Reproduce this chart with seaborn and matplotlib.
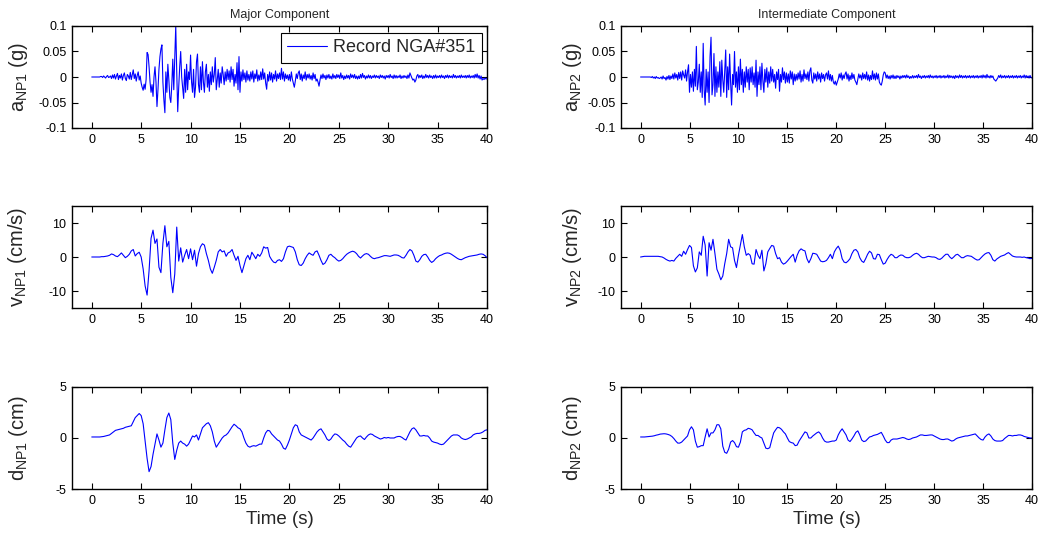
import numpy as np
import matplotlib
matplotlib.use("Agg")
import matplotlib.pyplot as plt
import seaborn as sns

# Registro NGA#351, componentes principais
# aceleração em mili-g, amostrada a cada 0.1 s (0 a 40 s)
acc_np1_mg = [
    0, 0, 0, 0, 0, 0, 0, 0, 0, 1,
    1, -1, 2, 0, -2, 1, 3, -1, 0, 2,
    -3, 4, -2, 5, -4, 2, 7, -5, 3, -2,
    6, -6, 3, 8, -3, -7, 5, 2, -4, 9,
    -5, 4, 14, -3, 6, -8, 3, 10, -6, 2,
    -12, -20, -26, -14, -24, -5, 48, 44, 20, -10,
    -30, -15, -38, 0, 20, -10, -58, -25, 15, 40,
    55, 63, -10, -45, -70, 10, -30, 25, -5, -40,
    -50, -15, 35, -25, 40, 100, 10, -68, -20, 20,
    50, 0, -20, -42, 15, -30, 25, -25, 10, -5,
    43, -10, -30, 15, -40, -20, 30, 45, -15, -30,
    20, -25, 30, -10, -30, 10, 25, -20, 5, -28,
    10, -15, 20, -10, 5, 38, -25, -5, 15, -20,
    8, -12, 20, 5, -15, 10, -8, 15, -5, 12,
    -10, 20, -5, 15, -18, 5, -12, 28, -25, 40,
    -30, 10, -8, 14, -5, 8, -10, 12, -6, 5,
    -8, 10, -4, 12, -10, 6, -3, 14, -8, 4,
    -6, 10, -5, 16, -4, 8, -12, -24, 5, -8,
    10, -6, 8, -10, 5, -4, 12, -8, 6, -3,
    8, -5, 17, -4, 10, -8, 6, -3, 4, -6,
    5, -8, 10, -4, -12, -20, -8, 6, -3, 8,
    12, -5, 6, -8, 4, -3, 10, -6, 5, -2,
    6, -4, 3, -6, 8, -3, 5, -8, -4, -10,
    -18, -6, 4, -3, 6, -2, 3, -5, 4, -2,
    5, -3, 2, -4, 6, -2, 3, -3, 5, -1,
    4, -3, 8, -2, 3, -5, 2, -3, 4, -2,
    3, -4, 6, -1, 4, -2, 5, -3, 2, -4,
    2, -3, 5, -2, 7, -1, 3, -4, 2, -2,
    4, -2, 3, -3, 2, -1, 4, -2, 3, -1,
    2, -3, 4, -1, 3, -2, 2, -4, 3, -1,
    3, -2, 5, -1, 2, -3, 4, -2, 3, -2,
    2, -1, 4, -3, 2, -2, 3, -1, 2, -3,
    4, -2, 8, 3, -2, -6, -4, -10, -6, 2,
    5, -2, 3, -1, 4, -3, 2, -2, 5, -1,
    3, -2, 4, -1, 2, -3, 3, -2, 4, -2,
    2, -1, 3, -2, 4, -1, 2, -3, 3, -1,
    4, -2, 3, -1, 2, -2, 5, -1, 3, -2,
    2, -1, 3, -2, 4, -1, 2, -1, 3, -2,
    3, -1, 4, -2, 2, -1, 3, -2, 5, -1,
    6, -2, 3, -4, 2, -6, -3, -5, -2, -4,
    -3,
]

acc_np2_mg = [
    0, 0, 0, 0, 0, 0, 0, 0, 0, 0,
    0, -1, 1, -2, 0, -3, 1, -2, -1, -3,
    -2, 0, -4, 2, -3, -1, -6, 1, -4, 3,
    -5, 2, -3, 6, -4, 8, -2, 5, -6, 9,
    -3, 10, -6, 12, 4, -2, 14, -8, 10, 24,
    -30, 5, -20, 10, -28, 15, -18, 60, -25, -10,
    25, -30, 10, -40, 66, -25, -55, 15, -30, 10,
    -50, 40, 78, -35, -15, 46, -38, 20, -30, 10,
    -20, 30, -38, 33, -5, -30, 10, 53, -40, 20,
    -25, 45, -10, -55, 5, -15, 50, -20, 10, -30,
    20, -25, 35, -15, 15, -30, 10, -20, 20, -10,
    15, -25, 18, -10, 20, -15, 8, -20, 33, -38,
    10, -15, 20, -25, 27, -8, -30, 15, -10, 18,
    -20, 10, -12, 20, -8, 15, -10, 5, -22, 10,
    -5, 15, -28, 5, -10, 18, -5, 10, -12, 8,
    -10, 6, -12, 12, -4, 10, -15, 6, -8, 5,
    -6, 8, -4, 12, -10, 5, -8, 14, -3, 6,
    -5, 10, -8, 12, 18, -6, -12, 8, -4, 6,
    -8, 10, -4, 6, -10, 8, -3, 5, -8, 4,
    8, -4, 12, -6, 5, -8, 3, -10, -14, -8,
    -16, -10, -4, 6, -2, 8, -6, 4, -3, 6,
    10, -4, 6, -8, 3, -5, 8, -3, 5, -6,
    -10, -15, -5, 6, -2, 4, -6, 8, -3, 5,
    -4, 10, -6, 4, -8, 3, -5, 12, -4, 6,
    -6, 8, -4, 6, -10, -14, -16, -8, 4, 10,
    8, -2, 4, -3, 2, -4, 3, -2, 4, -3,
    2, -3, 3, -1, 2, -4, 2, -2, 3, -1,
    3, -2, 4, -1, 2, -3, 1, -2, 3, -2,
    2, -1, 3, -2, 5, -1, 2, -3, 2, -1,
    3, -2, 2, -1, 3, -2, 4, -1, 2, -2,
    2, -1, 3, -2, 2, -1, 3, -2, 2, -1,
    3, -2, 2, -1, 4, -2, 3, -1, 2, -2,
    2, -3, 3, -1, 2, -2, 4, -1, 3, -2,
    2, -1, 3, -2, 2, -1, 3, -2, 2, -1,
    3, -2, 2, -1, 3, -2, 2, -1, 3, -2,
    4, -1, 3, -2, 5, -1, 2, -2, 3, -1,
    2, -4, -6, -8, -5, -2, 3, -1, 4, -2,
    2, -1, 3, -2, 2, -1, 3, -2, 2, -1,
    3, -2, 2, -1, 3, -2, 2, -1, 3, -2,
    2, -1, 4, -2, 3, -1, 2, -2, 3, -1,
    -2,
]

# velocidade (cm/s) e deslocamento (cm), amostrados a cada 0.2 s
vel_np1 = [
    0, 0, 0, 0, 0, 0.1, 0.1, 0.2, 0.3, 0.5,
    0.9, 0.7, 0.3, 0.1, 0.6, 1.2, 0.5, -0.2, 0.2, 0.8,
    1.8, 2.2, 0.3, 1.0, 1.4, 0.0, -3.5, -8.5, -11.2, -4.0,
    5.5, 7.9, 4.0, 5.3, -3.0, -4.6, 4.0, 9.2, 3.0, 4.6,
    -6.0, -10.5, -5.0, 8.8, -1.2, 2.7, -1.5, 0.5, 2.2, -0.5,
    2.4, -0.8, 2.0, -2.7, 1.0, 3.0, 3.9, 3.5, 1.0, -1.0,
    -3.5, -4.8, -3.0, -1.0, 1.5, 2.2, 1.5, 1.8, 0.2, 1.2,
    1.5, 2.2, 0.5, -1.0, 0.2, -2.5, -4.6, -2.5, -0.5, 0.5,
    -0.8, 1.4, 0.5, -0.5, 0.8, 0.2, 1.2, 3.0, 2.6, 2.8,
    0.2, -0.8, -1.5, -1.7, -1.0, -0.8, -1.3, -0.5, 1.5, 3.0,
    3.2, 3.0, 2.8, 1.5, -0.8, -2.3, -2.5, -1.8, -0.5, 0.5,
    1.2, 0.8, 0.5, 1.5, 1.8, 0.5, -1.0, -2.2, -1.8, -0.8,
    0.5, 0.8, 0.2, -0.2, -0.8, -1.2, -1.0, -0.5, 0.2, 0.8,
    1.2, 1.5, 1.7, 1.5, 1.0, 0.2, -0.3, 0.3, 0.8, 1.0,
    0.8, 0.2, -0.3, -0.5, -0.3, -0.2, 0.0, 0.2, 0.4, 0.4,
    0.3, 0.2, 0.4, 0.6, 0.6, 0.5, 0.2, -0.2, -0.3, 0.5,
    1.5, 2.2, 1.8, 0.5, -1.2, -1.5, -0.8, 0.2, 0.7, 0.8,
    0.0, -1.0, -1.6, -1.2, -0.5, 0.0, 0.4, 0.6, 0.9, 1.1,
    1.2, 1.1, 0.8, 0.4, 0.0, -0.4, -0.7, -0.8, -0.5, -0.2,
    0.0, 0.2, 0.3, 0.4, 0.5, 0.6, 0.8, 0.9, 0.8, 0.4,
    -0.2,
]

vel_np2 = [
    0, 0.1, 0.2, 0.2, 0.2, 0.2, 0.2, 0.2, 0.2, 0.2,
    0.1, 0.0, -0.3, -0.7, -1.0, -1.2, -1.0, -1.2, -0.4, 0.2,
    0.8, 0.2, 1.7, 0.8, 2.2, 3.4, 2.8, -2.6, -4.4, -3.2,
    1.5, 0.5, 6.1, 3.5, -5.6, 4.2, 2.0, 5.2, 1.0, -3.6,
    -5.0, -6.7, -5.6, -2.0, 1.0, 5.2, 3.0, 2.7, -1.0, -3.1,
    0.5, 3.5, 6.6, 3.0, 0.5, 1.0, 0.5, -2.0, -2.1, 2.2,
    0.5, -0.5, 2.0, -4.1, -2.0, 1.5, 2.5, 3.4, 3.2, 1.0,
    -0.5, -0.2, -1.5, -2.1, -1.8, -1.2, -0.5, 0.2, 0.8, -1.5,
    0.5, 1.8, 2.4, 2.0, 1.8, -0.5, -1.7, -0.5, 1.1, 1.0,
    0.8, -0.2, -1.2, -1.4, -1.3, -1.0, -0.2, 0.8, -0.5, 1.5,
    2.5, 3.2, 2.0, -0.5, -1.5, -1.7, -1.2, -0.5, 1.0, 2.0,
    2.2, 1.5, -0.2, -1.2, -1.6, -0.5, 0.8, 1.7, 1.2, -0.5,
    -0.6, 0.8, 0.7, -0.8, -2.1, -1.8, -0.7, 0.2, 0.8, 0.5,
    -0.2, -0.2, 0.3, 0.6, 0.5, 0.0, -0.2, -0.2, 0.0, 0.5,
    0.9, 1.1, 0.8, 0.2, -0.2, -0.2, 0.0, 0.2, 0.1, 0.0,
    0.0, -0.2, -0.6, -0.7, -0.3, 0.3, 0.8, 0.8, 0.0, -0.5,
    0.0, 0.6, 0.8, 0.3, -0.2, -0.2, 0.2, 0.4, 0.3, 0.2,
    -0.2, -0.6, -0.9, -0.8, -0.2, 0.4, 0.9, 1.2, 1.3, 0.5,
    -0.8, -1.2, -0.6, -0.2, 0.2, 0.4, 0.6, 1.0, 1.3, 0.8,
    0.3, 0.1, 0.0, 0.0, 0.0, -0.1, 0.0, -0.2, -0.3, -0.5,
    -0.4,
]

disp_np1 = [
    0.1, 0.1, 0.1, 0.1, 0.1, 0.12, 0.15, 0.2, 0.25, 0.3,
    0.45, 0.6, 0.75, 0.8, 0.85, 0.9, 0.95, 1.05, 1.1, 1.15,
    1.2, 1.6, 2.0, 2.2, 2.4, 2.2, 1.4, -0.3, -2.0, -3.3,
    -2.8, -1.6, -0.6, 0.4, -0.2, -0.9, -0.5, 0.8, 2.0, 2.45,
    1.8, -0.5, -2.1, -1.2, -0.5, -0.3, -0.5, -0.6, -0.8, -0.6,
    -0.2, 0.2, 0.1, 0.3, -0.2, 0.4, 1.0, 1.2, 1.4, 1.5,
    1.2, 0.6, -0.3, -0.9, -0.6, -0.3, 0.0, 0.2, 0.3, 0.5,
    0.8, 1.1, 1.35, 1.2, 1.0, 0.9, 0.6, 0.0, -0.5, -0.8,
    -0.9, -0.8, -0.75, -0.8, -0.7, -0.6, -0.6, 0.0, 0.5, 0.75,
    0.7, 0.4, 0.2, 0.0, -0.2, -0.3, -0.6, -1.0, -1.1, -0.7,
    -0.2, 0.4, 1.0, 1.3, 1.2, 0.6, 0.3, 0.2, 0.1, 0.0,
    -0.1, -0.2, 0.0, 0.3, 0.6, 0.8, 0.9, 0.6, 0.3, -0.1,
    -0.25, -0.1, 0.2, 0.4, 0.35, 0.2, 0.0, -0.2, -0.35, -0.6,
    -0.8, -0.9, -0.6, -0.3, 0.0, 0.15, 0.2, 0.0, -0.15, 0.1,
    0.3, 0.4, 0.35, 0.2, 0.1, 0.0, -0.1, -0.05, 0.05, 0.0,
    0.05, 0.0, 0.0, 0.0, 0.1, 0.15, 0.15, 0.05, -0.1, -0.2,
    0.2, 0.6, 0.9, 1.0, 0.8, 0.5, 0.2, 0.2, 0.25, 0.2,
    0.2, 0.0, -0.3, -0.4, -0.45, -0.5, -0.6, -0.65, -0.6, -0.4,
    -0.2, 0.0, 0.2, 0.3, 0.3, 0.3, 0.2, 0.0, -0.1, -0.15,
    -0.1, 0.0, 0.1, 0.3, 0.4, 0.45, 0.45, 0.5, 0.6, 0.75,
    0.8,
]

disp_np2 = [
    0.1, 0.1, 0.1, 0.12, 0.15, 0.15, 0.18, 0.22, 0.28, 0.32,
    0.38, 0.4, 0.42, 0.4, 0.35, 0.28, 0.15, -0.05, -0.3, -0.5,
    -0.5, -0.4, -0.2, 0.0, 0.2, 0.8, 1.1, 0.8, -0.3, -0.9,
    -0.85, -0.75, -0.75, 0.1, 0.9, 0.1, 0.5, 0.5, 0.8, 1.3,
    1.3, 0.9, -0.8, -1.4, -1.5, -1.1, -0.4, -0.25, -0.45, -0.85,
    -0.9, -0.4, 0.6, 0.75, 0.8, 0.95, 0.9, 0.8, 0.5, 0.25,
    0.25, 0.1, 0.0, -0.5, -1.0, -1.05, -0.95, -0.2, 0.5, 0.8,
    1.05, 1.0, 0.85, 0.6, 0.4, 0.0, -0.35, -0.45, -0.5, -0.75,
    -0.7, -0.3, 0.0, 0.3, 0.6, 0.5, 0.0, 0.0, 0.2, 0.35,
    0.5, 0.6, 0.4, 0.0, -0.3, -0.4, -0.4, -0.35, -0.3, -0.3,
    -0.2, 0.3, 0.65, 0.9, 0.6, 0.3, -0.2, -0.35, -0.1, 0.2,
    0.55, 0.7, 0.3, -0.2, -0.35, -0.3, -0.1, 0.1, 0.15, 0.25,
    0.3, 0.35, 0.45, 0.55, 0.2, -0.2, -0.45, -0.45, -0.2, -0.1,
    -0.1, -0.1, -0.05, 0.0, 0.05, 0.0, -0.1, -0.15, -0.1, 0.0,
    0.05, 0.1, 0.2, 0.3, 0.3, 0.25, 0.25, 0.28, 0.3, 0.3,
    0.2, 0.1, 0.0, -0.1, -0.15, -0.15, -0.1, -0.1, -0.2, -0.3,
    -0.25, -0.1, 0.0, 0.05, 0.1, 0.15, 0.2, 0.2, 0.25, 0.3,
    0.35, 0.4, 0.2, 0.0, -0.15, -0.2, 0.1, 0.3, 0.4, 0.2,
    -0.1, -0.25, -0.3, -0.3, -0.3, -0.25, -0.05, 0.1, 0.25, 0.25,
    0.2, 0.25, 0.25, 0.3, 0.3, 0.25, 0.15, 0.1, 0.05, 0.0,
    0.0,
]

x_ticks = [0, 5, 10, 15, 20, 25, 30, 35, 40]
acc_ticks = [-0.1, -0.05, 0, 0.05, 0.1]
acc_tick_labels = ["-0.1", "-0.05", "0", "0.05", "0.1"]
vel_ticks = [-10, 0, 10]
disp_ticks = [-5, 0, 5]
titles = ["Major Component", "Intermediate Component"]

t_acc = np.arange(len(acc_np1_mg)) * 0.1
t_vd = np.arange(len(vel_np1)) * 0.2

sns.set_style("ticks")
plt.rcParams['font.family'] = ['Liberation Sans', 'DejaVu Sans']
plt.rcParams['mathtext.fontset'] = 'custom'
plt.rcParams['mathtext.rm'] = 'Liberation Sans'
plt.rcParams['axes.unicode_minus'] = False

fig = plt.figure(figsize=(10.45, 5.35), dpi=100)
W, H = 1045.0, 535.0

col_left = [72, 621]
col_width = [415, 411]
row_top = [26, 206, 387]
row_h = 102

series = [
    [(t_acc, np.array(acc_np1_mg) / 1000.0), (t_acc, np.array(acc_np2_mg) / 1000.0)],
    [(t_vd, vel_np1), (t_vd, vel_np2)],
    [(t_vd, disp_np1), (t_vd, disp_np2)],
]
ylabels = [
    ["a$_{\\mathregular{NP1}}$ (g)", "a$_{\\mathregular{NP2}}$ (g)"],
    ["v$_{\\mathregular{NP1}}$ (cm/s)", "v$_{\\mathregular{NP2}}$ (cm/s)"],
    ["d$_{\\mathregular{NP1}}$ (cm)", "d$_{\\mathregular{NP2}}$ (cm)"],
]
ylims = [(-0.1, 0.1), (-15, 15), (-5, 5)]
yticks = [acc_ticks, vel_ticks, disp_ticks]

for r in range(3):
    for c in range(2):
        ax = fig.add_axes([col_left[c] / W, 1 - (row_top[r] + row_h) / H,
                           col_width[c] / W, row_h / H])
        tt, yy = series[r][c]
        first = (r == 0 and c == 0)
        sns.lineplot(x=tt, y=yy, ax=ax, color="#0000ff", linewidth=0.8,
                     estimator=None, sort=False,
                     label="Record NGA#351" if first else None,
                     legend=first)
        ax.set_xlim(-2, 40)
        ax.set_ylim(*ylims[r])
        ax.set_xticks(x_ticks)
        ax.set_xticklabels([str(v) for v in x_ticks])
        ax.set_yticks(yticks[r])
        if r == 0:
            ax.set_yticklabels(acc_tick_labels)
        else:
            ax.set_yticklabels([str(v) for v in yticks[r]])
        ax.tick_params(direction="in", top=True, right=True, length=4,
                       width=0.8, labelsize=9, pad=4, colors="black")
        for sp in ax.spines.values():
            sp.set_linewidth(1.0)
            sp.set_color("black")
        ax.set_ylabel(ylabels[r][c], fontsize=14.5, va="center")
        ax.yaxis.set_label_coords((18 - 72) / 415 if c == 0 else (572 - 621) / 411, 0.5)
        if r == 0:
            ax.set_title(titles[c], fontsize=9, pad=6)
        if r == 2:
            ax.set_xlabel("Time (s)", fontsize=13.5, va="center")
            ax.xaxis.set_label_coords(0.5, -(520 - 489) / row_h)
        if first:
            leg = ax.legend(loc="upper right", bbox_to_anchor=(482 / W, 1 - 33 / H),
                            bbox_transform=fig.transFigure, borderaxespad=0,
                            fancybox=False, edgecolor="black", framealpha=1,
                            fontsize=13, handlelength=2.2, borderpad=0.35,
                            handletextpad=0.35)
            leg.get_frame().set_linewidth(0.8)

fig.savefig("out.png", dpi=100, facecolor="white")
